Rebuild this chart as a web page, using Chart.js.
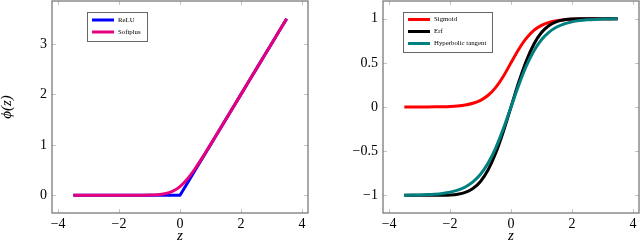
<!DOCTYPE html>
<html>
<head>
<meta charset="utf-8">
<script src="https://cdn.jsdelivr.net/npm/chart.js@4.4.1/dist/chart.umd.min.js"></script>
<style>
  html, body { margin: 0; padding: 0; background: #fff; }
  #wrap { position: relative; width: 640px; height: 244px; }
  canvas { position: absolute; top: 0; }
  #c1 { left: 0; }
  #c2 { left: 320px; }
</style>
</head>
<body>
<div id="wrap">
  <canvas id="c1" width="320" height="244"></canvas>
  <canvas id="c2" width="320" height="244"></canvas>
</div>
<script>
// ---------- data ----------
const zValues = [-3.5,-3.25,-3,-2.75,-2.5,-2.25,-2,-1.75,-1.5,-1.25,-1,-0.75,-0.5,-0.25,0,
                 0.25,0.5,0.75,1,1.25,1.5,1.75,2,2.25,2.5,2.75,3,3.25,3.5];

const reluValues = [0,0,0,0,0,0,0,0,0,0,0,0,0,0,0,
                    0.25,0.5,0.75,1,1.25,1.5,1.75,2,2.25,2.5,2.75,3,3.25,3.5];

const softplusValues = [0,0,0,0,0.00001,0.00003,0.00008,0.00023,0.00062,0.00168,0.00454,0.01215,0.03173,0.07832,0.17329,
                        0.32832,0.53173,0.76215,1.00454,1.25168,1.50062,1.75023,2.00008,2.25003,2.5,2.75,3,3.25,3.5];

const sigmoidValues = [0.00016,0.0003,0.00055,0.00103,0.00193,0.00359,0.00669,0.01243,0.02298,0.04209,0.07586,0.13296,0.2227,0.34865,0.5,
                       0.65135,0.7773,0.86704,0.92414,0.95791,0.97702,0.98757,0.99331,0.99641,0.99807,0.99897,0.99945,0.9997,0.99984];

const erfValues = [-1,-1,-0.99998,-0.9999,-0.99959,-0.99854,-0.99532,-0.98667,-0.96611,-0.9229,-0.8427,-0.71116,-0.5205,-0.27633,0,
                   0.27633,0.5205,0.71116,0.8427,0.9229,0.96611,0.98667,0.99532,0.99854,0.99959,0.9999,0.99998,1,1];

const tanhValues = [-0.99818,-0.997,-0.99505,-0.99186,-0.98661,-0.97803,-0.96403,-0.94138,-0.90515,-0.84828,-0.76159,-0.63515,-0.46212,-0.24492,0,
                    0.24492,0.46212,0.63515,0.76159,0.84828,0.90515,0.94138,0.96403,0.97803,0.98661,0.99186,0.99505,0.997,0.99818];

const leftLabels = ['ReLU', 'Softplus'];
const rightLabels = ['Sigmoid', 'Erf', 'Hyperbolic tangent'];
const xTitle = 'z';
const yTitle = 'ϕ(z)';

// ---------- helpers ----------
const pts = (ys) => zValues.map((z, i) => ({ x: z, y: ys[i] }));
const fmt = (v) => {
  const n = Number(Number(v).toFixed(3));
  return (n < 0 ? '\u2212' + String(-n) : String(n));
};
const SERIF = "'Liberation Serif', 'DejaVu Serif', serif";

// frame + inward ticks
const framePlugin = {
  id: 'frame',
  afterDatasetsDraw(chart) {
    const { ctx, chartArea: a, scales } = chart;
    ctx.save();
    ctx.strokeStyle = '#c4c4c4';
    ctx.lineWidth = 1;
    const L = 4;
    scales.x.ticks.forEach(t => {
      const px = Math.round(scales.x.getPixelForValue(t.value)) + 0.5;
      ctx.beginPath();
      ctx.moveTo(px, a.bottom); ctx.lineTo(px, a.bottom - L);
      ctx.moveTo(px, a.top); ctx.lineTo(px, a.top + L);
      ctx.stroke();
    });
    scales.y.ticks.forEach(t => {
      const py = Math.round(scales.y.getPixelForValue(t.value)) + 0.5;
      ctx.beginPath();
      ctx.moveTo(a.left, py); ctx.lineTo(a.left + L, py);
      ctx.moveTo(a.right, py); ctx.lineTo(a.right - L, py);
      ctx.stroke();
    });
    ctx.strokeStyle = '#7a7a7a';
    ctx.lineWidth = 1.3;
    ctx.strokeRect(a.left, a.top, a.right - a.left, a.bottom - a.top);
    ctx.restore();
  }
};

// legend drawn inside chart area
const boxLegend = {
  id: 'boxLegend',
  afterDraw(chart, args, opts) {
    const { ctx } = chart;
    const ds = chart.data.datasets;
    ctx.save();
    ctx.fillStyle = '#fff';
    ctx.fillRect(opts.x, opts.y, opts.w, opts.h);
    ctx.strokeStyle = '#666';
    ctx.lineWidth = 1;
    ctx.strokeRect(opts.x + 0.5, opts.y + 0.5, opts.w, opts.h);
    ctx.font = "6.8px " + SERIF;
    ctx.textBaseline = 'middle';
    ctx.textAlign = 'left';
    ds.forEach((d, i) => {
      const yy = opts.y + opts.first + i * opts.gap;
      ctx.strokeStyle = d.borderColor;
      ctx.lineWidth = 3;
      ctx.beginPath();
      ctx.moveTo(opts.x + opts.lx0, yy);
      ctx.lineTo(opts.x + opts.lx1, yy);
      ctx.stroke();
      ctx.fillStyle = '#000';
      ctx.fillText(d.label, opts.x + opts.tx, yy);
    });
    ctx.restore();
  }
};

function makeChart(id, datasets, yMin, yMax, yStep, yWidth, padRight, legend, showYTitle) {
  return new Chart(document.getElementById(id), {
    type: 'line',
    data: { datasets },
    options: {
      responsive: false,
      animation: false,
      devicePixelRatio: 1,
      layout: { padding: { top: 1, right: padRight, left: 0, bottom: 0 } },
      elements: { point: { radius: 0 }, line: { borderWidth: 3, borderCapStyle: 'butt', borderJoinStyle: 'round' } },
      plugins: {
        legend: { display: false },
        tooltip: { enabled: false },
        boxLegend: legend
      },
      scales: {
        x: {
          type: 'linear', min: -4.2, max: 4.2,
          grid: { display: false, drawTicks: false }, border: { display: false },
          ticks: { stepSize: 2, includeBounds: false, padding: 3, color: '#000',
                   font: { family: SERIF, size: 14 }, maxRotation: 0, callback: fmt },
          title: { display: true, text: xTitle, color: '#000', padding: 0,
                   font: { family: SERIF, size: 15, style: 'italic', lineHeight: 1 } },
          afterFit(s) { s.height = 31; s.paddingLeft = 0; s.paddingRight = 0; }
        },
        y: {
          type: 'linear', min: yMin, max: yMax,
          grid: { display: false, drawTicks: false }, border: { display: false },
          ticks: { stepSize: yStep, includeBounds: false, padding: 5, color: '#000',
                   font: { family: SERIF, size: 14 }, callback: fmt },
          title: { display: showYTitle, text: yTitle, color: '#000', padding: 0,
                   font: { family: SERIF, size: 15, style: 'italic', lineHeight: 1 } },
          afterFit(s) { s.width = yWidth; s.paddingTop = 0; s.paddingBottom = 0; }
        }
      }
    },
    plugins: [framePlugin, boxLegend]
  });
}

makeChart('c1', [
  { label: leftLabels[0], data: pts(reluValues), borderColor: '#0000ff', tension: 0, order: 1 },
  { label: leftLabels[1], data: pts(softplusValues), borderColor: '#e6007e', cubicInterpolationMode: 'monotone', order: 0 }
], -0.35, 3.85, 1, 52, 12,
  { x: 87, y: 12, w: 60, h: 29, first: 8, gap: 12, lx0: 5, lx1: 27, tx: 31 }, true);

makeChart('c2', [
  { label: rightLabels[0], data: pts(sigmoidValues), borderColor: '#ff0000', cubicInterpolationMode: 'monotone', order: 2 },
  { label: rightLabels[1], data: pts(erfValues), borderColor: '#000000', cubicInterpolationMode: 'monotone', order: 1 },
  { label: rightLabels[2], data: pts(tanhValues), borderColor: '#008080', cubicInterpolationMode: 'monotone', order: 0 }
], -1.2, 1.2, 0.5, 63, 1,
  { x: 83, y: 12, w: 89, h: 40, first: 7.5, gap: 12, lx0: 5, lx1: 27, tx: 31 }, false);
</script>
</body>
</html>
